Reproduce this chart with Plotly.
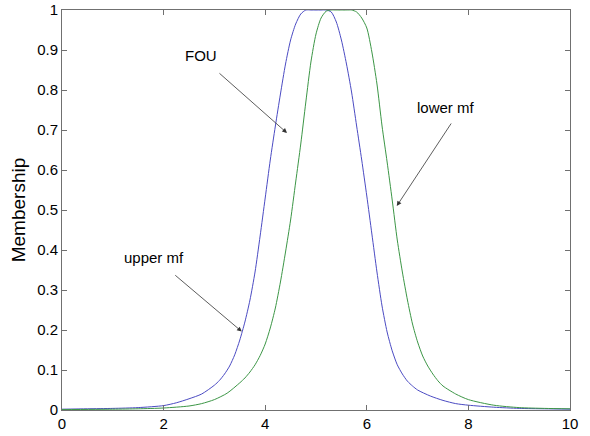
import plotly.graph_objects as go

# Blue curve (upper mf)
blue_x = [0, 0.5, 1, 1.5, 2, 2.25, 2.5, 2.75, 3, 3.1, 3.2, 3.3, 3.4, 3.5, 3.6, 3.7, 3.8, 3.9,
          4.0, 4.1, 4.2, 4.3, 4.4, 4.5, 4.6, 4.7, 4.8, 4.9, 5.0, 5.1, 5.2, 5.3, 5.4, 5.5, 5.6,
          5.7, 5.8, 5.9, 6.0, 6.1, 6.2, 6.3, 6.4, 6.5, 6.6, 6.7, 6.8, 6.9, 7.0, 7.25, 7.5,
          7.75, 8.0, 8.5, 9.0, 9.5, 10]
blue_y = [0.002, 0.003, 0.004, 0.006, 0.011, 0.018, 0.028, 0.04, 0.062, 0.074, 0.09, 0.11,
          0.138, 0.175, 0.22, 0.275, 0.345, 0.435, 0.53, 0.625, 0.71, 0.79, 0.865, 0.925, 0.965,
          0.99, 1.0, 1.0, 1.0, 1.0, 1.0, 0.995, 0.97, 0.925, 0.865, 0.795, 0.71, 0.625, 0.535,
          0.44, 0.345, 0.26, 0.195, 0.148, 0.113, 0.09, 0.072, 0.06, 0.05, 0.035, 0.024,
          0.016, 0.012, 0.007, 0.004, 0.003, 0.002]

# Green curve (lower mf)
green_x = [0, 1, 1.5, 2, 2.5, 2.75, 3.0, 3.25, 3.5, 3.6, 3.7, 3.8, 3.9, 4.0, 4.1, 4.2, 4.3,
           4.4, 4.5, 4.6, 4.7, 4.8, 4.9, 5.0, 5.1, 5.2, 5.3, 5.4, 5.5, 5.6, 5.7, 5.8, 5.9, 6.0,
           6.1, 6.2, 6.3, 6.4, 6.5, 6.6, 6.7, 6.8, 6.9, 7.0, 7.1, 7.2, 7.3, 7.4, 7.5, 7.75,
           8.0, 8.5, 9.0, 9.5, 10]
green_y = [0.001, 0.002, 0.003, 0.005, 0.01, 0.016, 0.026, 0.042, 0.068, 0.08, 0.095, 0.113,
           0.136, 0.165, 0.205, 0.255, 0.32, 0.395, 0.475, 0.57, 0.665, 0.77, 0.87, 0.94, 0.98,
           0.997, 1.0, 1.0, 1.0, 1.0, 1.0, 0.995, 0.98, 0.955, 0.895, 0.815, 0.71, 0.62, 0.525,
           0.425, 0.345, 0.275, 0.215, 0.17, 0.135, 0.11, 0.09, 0.073, 0.06, 0.04, 0.026,
           0.012, 0.006, 0.004, 0.003]

x_ticks = [0, 2, 4, 6, 8, 10]
y_ticks = [0, 0.1, 0.2, 0.3, 0.4, 0.5, 0.6, 0.7, 0.8, 0.9, 1.0]
y_tick_labels = ["0", "0.1", "0.2", "0.3", "0.4", "0.5", "0.6", "0.7", "0.8", "0.9", "1"]

FONT = "Liberation Sans, Arial, sans-serif"

fig = go.Figure()
fig.add_trace(go.Scatter(x=blue_x, y=blue_y, mode="lines",
                         line=dict(color="rgb(75,75,195)", width=1, shape="spline", smoothing=0.7),
                         showlegend=False, hoverinfo="skip"))
fig.add_trace(go.Scatter(x=green_x, y=green_y, mode="lines",
                         line=dict(color="rgb(60,150,70)", width=1, shape="spline", smoothing=0.7),
                         showlegend=False, hoverinfo="skip"))

# text labels
labels = [("FOU", 2.74, 0.8875), ("upper mf", 1.81, 0.3825), ("lower mf", 7.56, 0.7575)]
for txt, lx, ly in labels:
    fig.add_annotation(x=lx, y=ly, text=txt, showarrow=False,
                       font=dict(family=FONT, size=15, color="black"))

# arrows (tip, tail)
arrows = [((4.43, 0.6925), (3.07, 0.845)),
          ((3.54, 0.196), (2.20, 0.34)),
          ((6.59, 0.51), (7.68, 0.72))]
for (tx, ty), (sx, sy) in arrows:
    fig.add_annotation(x=tx, y=ty, ax=sx, ay=sy, xref="x", yref="y", axref="x", ayref="y",
                       text="", showarrow=True, arrowhead=2, arrowsize=1.2,
                       arrowwidth=0.8, arrowcolor="#333333")

axis_common = dict(showline=True, linecolor="#707070", linewidth=1, mirror="ticks",
                   ticks="inside", ticklen=5, tickcolor="#707070", showgrid=False,
                   zeroline=False, automargin=False,
                   tickfont=dict(family=FONT, size=15, color="black"))

fig.update_xaxes(range=[0, 10], tickvals=x_ticks, **axis_common)
fig.update_yaxes(range=[0, 1], tickvals=y_ticks, ticktext=y_tick_labels,
                 title=dict(text="Membership", font=dict(family=FONT, size=19, color="black"),
                            standoff=6),
                 **axis_common)

fig.update_layout(width=590, height=436, margin=dict(l=62, r=20, t=10, b=26),
                  plot_bgcolor="white", paper_bgcolor="white")

fig.write_html("out.html", config={"displayModeBar": False},
               post_script="document.body.style.margin='0';")
